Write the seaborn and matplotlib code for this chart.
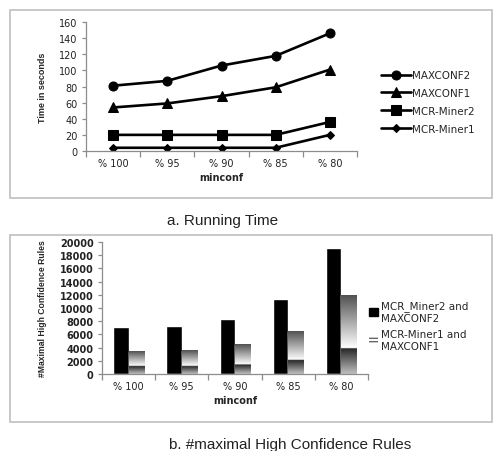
import numpy as np
import pandas as pd
import seaborn as sns
import matplotlib.pyplot as plt
from matplotlib.patches import Rectangle, Patch

minconf = ['% 100', '% 95', '% 90', '% 85', '% 80']

# a. running time (seconds)
maxconf2 = [81, 87, 106, 118, 146]
maxconf1 = [54, 59, 68, 79, 101]
mcr_miner2 = [20, 20, 20, 20, 36]
mcr_miner1 = [4, 4, 4, 4, 20]

# b. number of maximal high confidence rules
rules_pair2 = [7100, 7250, 8350, 11300, 19100]
rules_pair1 = [3400, 3550, 4400, 6400, 11900]
rules_pair1_low = [1200, 1200, 1400, 2100, 3900]

sns.set_style('ticks')
plt.rcParams['font.family'] = ['DejaVu Sans']

W, H = 493, 452
fig = plt.figure(figsize=(W / 100, H / 100), dpi=100)

# grey frames round both panels
for y0, y1 in [(11, 199), (236, 423)]:
    fig.patches.append(Rectangle((10 / W, 1 - y1 / H), 1 - 10 / W - 0.003, (y1 - y0) / H,
                                 transform=fig.transFigure, fill=False,
                                 edgecolor='#c4c4c4', linewidth=1.3))

def style_axis(ax):
    sns.despine(ax=ax)
    for s in ['left', 'bottom']:
        ax.spines[s].set_color('#8c8c8c')
        ax.spines[s].set_linewidth(0.9)
    ax.set_xlim(-0.5, 4.5)
    ax.set_xticks(np.arange(-0.5, 5, 1), minor=True)
    ax.tick_params(axis='x', which='major', length=0, labelsize=7, colors='#222222', pad=5)
    ax.tick_params(axis='x', which='minor', length=4, color='#8c8c8c', width=0.9)
    ax.tick_params(axis='y', length=3, color='#8c8c8c', width=0.9, labelsize=7,
                   labelcolor='#222222', pad=3)

# ---- a. Running Time ----
ax1 = fig.add_axes([86 / W, 1 - 152 / H, 271 / W, 129 / H])
series = [('MAXCONF2', maxconf2, 'o', 6.5),
          ('MAXCONF1', maxconf1, '^', 7),
          ('MCR-Miner2', mcr_miner2, 's', 6.5),
          ('MCR-Miner1', mcr_miner1, 'D', 4.5)]
for name, vals, mk, ms in series:
    sns.lineplot(x=minconf, y=vals, ax=ax1, color='black', marker=mk, markersize=ms,
                 markeredgecolor='black', linewidth=1.9, label=name, sort=False)
style_axis(ax1)
ax1.set_ylim(0, 160)
ax1.set_yticks(range(0, 161, 20))
ax1.set_ylabel('Time in seconds', fontsize=6.5, fontweight='bold',
               family='Liberation Sans', labelpad=9)
ax1.set_xlabel('minconf', fontsize=7, fontweight='bold', labelpad=3)
ax1.legend(loc='upper left', bbox_to_anchor=(377 / W, 1 - 67 / H),
           bbox_transform=fig.transFigure, frameon=False, fontsize=7.5,
           handlelength=2.9, labelspacing=0.75, handletextpad=0.1, borderaxespad=0)

# ---- b. #maximal High Confidence Rules ----
ax2 = fig.add_axes([102 / W, 1 - 375 / H, 266 / W, 132 / H])
lab2 = 'MCR_Miner2 and\nMAXCONF2'
lab1 = 'MCR-Miner1 and\nMAXCONF1'
df = pd.DataFrame({'minconf': minconf * 2,
                   'rules': rules_pair2 + rules_pair1,
                   'pair': [lab2] * 5 + [lab1] * 5})
sns.barplot(data=df, x='minconf', y='rules', hue='pair', palette=['black', 'white'],
            width=0.58, saturation=1, ax=ax2, legend=False)

# two-band grey gradient fill for the second series
for bar, low in zip(ax2.containers[1], rules_pair1_low):
    x0, w, h = bar.get_x(), bar.get_width(), bar.get_height()
    yy = np.linspace(0, h, 300)
    shade = np.where(yy < low, 0.75 - 0.6 * yy / low, 1.0 - 0.68 * (yy - low) / (h - low))
    ax2.imshow(shade[:, None], extent=[x0, x0 + w, 0, h], origin='lower', cmap='gray',
               vmin=0, vmax=1, aspect='auto', interpolation='bilinear',
               zorder=bar.get_zorder() + 0.1)

style_axis(ax2)
ax2.set_ylim(0, 20000)
ax2.set_yticks(range(0, 20001, 2000))
for t in ax2.get_yticklabels():
    t.set_fontweight('bold')
ax2.set_ylabel('#Maximal High Confidence Rules', fontsize=6.2, fontweight='bold',
               family='Liberation Sans', labelpad=9)
ax2.set_xlabel('minconf', fontsize=7, fontweight='bold', labelpad=3)
handles = [Patch(facecolor='black', edgecolor='black'),
           Patch(facecolor='white', edgecolor='#666666', hatch='-----', linewidth=0)]
ax2.legend(handles, [lab2, lab1], loc='upper left', bbox_to_anchor=(365 / W, 1 - 297 / H),
           bbox_transform=fig.transFigure, frameon=False, fontsize=7.5,
           handlelength=0.8, handleheight=0.8, labelspacing=0.6, handletextpad=0.3,
           borderaxespad=0)

fig.text(223 / W, 1 - 221 / H, 'a. Running Time', ha='center', va='center',
         fontsize=11, family='Liberation Sans', color='#222222')
fig.text(290 / W, 1 - 445 / H, 'b. #maximal High Confidence Rules', ha='center',
         va='center', fontsize=11, family='Liberation Sans', color='#222222')

fig.savefig('out.png', dpi=100)
